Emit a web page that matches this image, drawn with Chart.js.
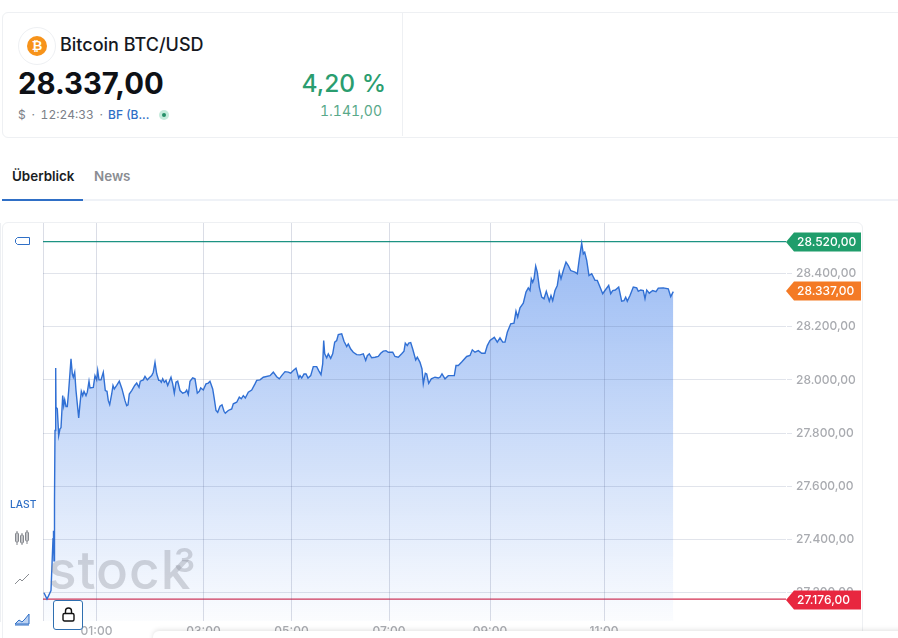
<!DOCTYPE html>
<html lang="de">
<head>
<meta charset="UTF-8">
<title>Bitcoin BTC/USD</title>
<style>
    html, body { margin: 0; padding: 0; background: #fff; overflow: hidden; font-family: Inter, Arial, sans-serif; }
    #page { position: relative; width: 898px; height: 638px; overflow: hidden; }
    #page > * { position: absolute; }
    #quoteCard { left: 2px; top: 12px; width: 920px; height: 124px; border: 1px solid #eef0f3; border-radius: 6px; }
    #divider { left: 402px; top: 13px; width: 1px; height: 123px; background: #eef0f3; }
    #coin { left: 18px; top: 27px; width: 36px; height: 36px; border: 1px solid #eef0f3; border-radius: 50%; }
    #coin div { position: absolute; left: 8px; top: 8px; width: 20px; height: 20px; border-radius: 50%; background: #f7931a; color: #fff; font: bold 13px/20px "DejaVu Sans", sans-serif; text-align: center; }
    #title { left: 60px; top: 34px; font-size: 18px; line-height: 22px; font-weight: 500; color: #16191f; }
    #price { left: 18px; top: 66px; font-size: 29.3px; line-height: 36px; font-weight: 700; color: #0e1116; }
    #meta { left: 18px; top: 107px; font-size: 12px; line-height: 16px; color: #7b8088; white-space: pre; font-feature-settings: "tnum"; word-spacing: 2.5px; }
    #exchange { left: 108px; top: 107px; font-size: 12px; line-height: 16px; font-weight: 500; color: #2f6fc6; }
    #live { left: 159px; top: 110px; width: 10px; height: 10px; border-radius: 50%; background: #c5ebdc; }
    #live div { position: absolute; left: 3px; top: 3px; width: 4px; height: 4px; border-radius: 50%; background: #258f68; }
    #pct { right: 512px; top: 67px; font-size: 24.5px; line-height: 32px; font-weight: 500; color: #2a9d6f; }
    #abs { right: 516px; top: 102px; font-size: 14px; line-height: 18px; color: #5aa98a; font-feature-settings: "tnum"; }
    #tab1 { left: 12px; top: 167px; font-size: 13.4px; line-height: 18px; font-weight: 600; color: #1a1d23; }
    #tab2 { left: 94px; top: 167px; font-size: 13.4px; line-height: 18px; font-weight: 600; color: #8a8d92; }
    #tabLine { left: 2px; top: 199px; width: 896px; height: 2px; background: #eff2f7; }
    #tabActive { left: 2px; top: 199px; width: 81px; height: 2px; background: #2f6fc6; }
    #chartCard { left: 2px; top: 222px; width: 859px; height: 430px; border: 1px solid #eef0f3; border-radius: 6px; }
    #chart { left: 0; top: 0; }
    #mark { left: 48px; top: 537px; font-size: 53px; line-height: 66px; font-weight: 500; color: rgba(130,134,145,.33); letter-spacing: 1px; }
    #markExp { left: 174px; top: 542px; font-size: 33px; line-height: 36px; font-weight: 600; color: rgba(130,134,145,.33); }
    #last { left: 10px; top: 498px; font-size: 10.3px; line-height: 12px; font-weight: 500; color: #2f6fc6; }
    #lock { left: 53px; top: 600px; width: 28px; height: 28px; background: #fff; border: 1px solid #2f6fb0; border-radius: 3px; }
    #popup { left: 153px; top: 631px; width: 800px; height: 30px; background: #fff; border-radius: 6px 0 0 0; box-shadow: 0 -1px 5px rgba(0,0,0,.12); }
    svg { position: absolute; }
</style>
</head>
<body>
<div id="page">
    <div id="quoteCard"></div>
    <div id="divider"></div>
    <div id="coin"><div>₿</div></div>
    <div id="title">Bitcoin BTC/USD</div>
    <div id="price">28.337,00</div>
    <div id="meta">$ · 12:24:33 ·</div>
    <div id="exchange">BF (B...</div>
    <div id="live"><div></div></div>
    <div id="pct">4,20 %</div>
    <div id="abs">1.141,00</div>
    <div id="tab1">Überblick</div>
    <div id="tab2">News</div>
    <div id="tabLine"></div>
    <div id="tabActive"></div>
    <div id="chartCard"></div>
    <canvas id="chart" width="898" height="638"></canvas>
    <div id="mark">stock</div>
    <div id="markExp">3</div>
    <svg style="left:14px;top:235px" width="18" height="12"><path d="M3.5 2.5h12v7h-12l-2-2v-3z" fill="none" stroke="#2f6fc6"/></svg>
    <div id="last">LAST</div>
    <svg style="left:14px;top:530px" width="16" height="16" fill="none" stroke="#85888e"><rect x="1.5" y="3" width="3" height="9" rx="1"/><rect x="6.5" y="5" width="3" height="8" rx="1"/><rect x="11.5" y="2" width="3" height="9" rx="1"/><path d="M3 1v14M8 3v12M13 0v14"/></svg>
    <svg style="left:14px;top:572px" width="16" height="14" fill="none" stroke="#8a8d92"><path d="M1 12l5-5 2 2 7-7"/></svg>
    <svg style="left:14px;top:612px" width="16" height="14"><path d="M1 12l4-4 3 2 3-3 4-5v10z" fill="#bcd2f2" stroke="#2f6fc6"/><path d="M1 13h14" stroke="#2f6fc6"/></svg>
    <div id="lock"><svg style="left:8px;top:6px" width="13" height="15" fill="none" stroke="#111" stroke-width="1.4"><rect x="1" y="6.5" width="11" height="7.5" rx="1.5"/><path d="M3.5 6.5V4a3 3 0 0 1 6 0v2.5"/></svg></div>
    <div id="popup"></div>
</div>
<script src="https://cdn.jsdelivr.net/npm/chart.js@4"></script>
<script>
// position along the (uneven) session axis, one entry per trade sample
const steps = [1,4,8,10,10.5,11,11.5,12,12.7,13,14.3,15.7,17,18,19.7,20.7,21.7,23,24.3,25.7,28,29.3,30.3,31.7,33,34.3,35.7,37,38.3,39.7,41,43,44.3,46,47,50.3,52,53.7,54.7,56,58,60.3,62.3,64,65.3,66.7,68.7,70,71.3,73.7,76.3,79,82,83.7,85,86.3,88.7,91.7,93.7,96,97.3,100.3,102,104.3,106.3,108.7,110.3,112,113.7,115.7,117,118.3,119.7,121.3,123,124.7,128,129.7,131.3,133,134.7,137,139.7,142.3,143.7,145.3,147,149.7,152,154.3,156.3,157.7,160.3,163,165.3,167,169.7,171.3,173,174.7,177,179,181,182.3,185.3,188.7,190.3,193.7,196.3,198.3,200.3,202.3,205.3,208.7,212,213.7,217,220.3,227,230.3,233.7,236.3,238.7,242,245.3,247.7,250.3,253,255.7,257,258.7,261,263,265,267.7,270.3,273.7,275.7,278,279.7,280.7,281.7,283.7,285.3,287.7,289.7,291.7,293.7,295.3,298.7,301,303.7,305.3,307.7,310.3,313.7,317,320.3,322.7,324.3,326.3,328.7,332,335.3,337.7,340.3,343,345.3,349.7,352,355.3,358.7,361,362.3,364.3,365.7,367.7,369.7,372.7,374.3,377,379,380.3,382.3,383.7,385.7,388.3,392,395.3,397,399,402,405.3,411.3,413,415.3,418.7,423.7,427,429.3,432,435.3,438.7,442,444.3,447,451.3,454.3,457,459.7,462,464.3,467.7,471,473,474.7,477,480.3,483,485.3,487,488.3,489.7,491,492.7,494.3,496.3,498.7,501,503.3,506.3,508,509.7,512,514.3,516.3,518,520.3,523,525.3,527.7,532,534.3,536.3,538.7,540.3,541.7,543.7,546,548.7,552,554.3,557,559.7,562.3,565.7,567.7,569.7,572.3,575.7,578.7,581,582.7,584.3,587,590.3,593.7,595.3,597.7,600.3,602,603.7,606.3,609.7,613,615.3,620.3,625.3,627.7,630.3];
const prices = [27200,27176,27208,27403,27433,27320,27546,27810,28045,27897,27891,27791,27816,27820,27941,27903,27925,27900,27900,27960,28079,28023,28010,28029,27960,27910,27857,27910,27957,27941,27957,27941,27954,27995,27970,27972,28016,28000,28035,28000,28000,28029,27960,27957,27922,27907,27947,27979,27966,27979,27995,27966,27922,27903,27906,27947,27960,27979,27988,27972,27995,28000,28013,28000,28008,28016,28029,28066,28023,27998,27998,27991,28004,27991,27998,27979,28010,27985,27950,27991,27995,27960,27950,27954,27962,27945,27995,28008,28004,27950,27957,27970,27962,27985,27988,27995,27966,27929,27885,27878,27901,27906,27882,27875,27885,27891,27910,27916,27935,27929,27941,27932,27954,27962,27985,27998,28000,28010,28016,28029,28012,28004,28016,28031,28029,28025,28035,28044,28007,28016,28007,28022,28022,28007,28016,28050,28050,28035,28020,28060,28148,28098,28083,28098,28081,28098,28142,28148,28170,28173,28145,28125,28135,28116,28104,28095,28094,28098,28073,28091,28098,28083,28085,28088,28100,28108,28110,28104,28104,28088,28085,28098,28108,28138,28129,28138,28140,28116,28075,28085,28066,28041,27985,28025,28022,27987,28004,28010,28007,28010,28023,28004,28016,28016,28054,28054,28067,28088,28092,28113,28104,28110,28100,28100,28129,28148,28160,28142,28158,28142,28142,28179,28211,28213,28258,28236,28271,28288,28330,28346,28336,28380,28367,28380,28428,28405,28349,28311,28305,28333,28296,28317,28298,28336,28355,28405,28380,28411,28443,28430,28411,28405,28399,28455,28514,28474,28480,28449,28392,28399,28374,28374,28349,28324,28338,28355,28324,28336,28338,28349,28296,28298,28311,28296,28317,28349,28346,28333,28338,28336,28305,28338,28326,28336,28332,28345,28346,28342,28313,28332];

const timeTicks = [0,53.5,160.5,248.5,346,447,561];
const timeLabels = ["","01:00","03:00","05:00","07:00","09:00","11:00"];
const priceTicks = [27200,27400,27600,27800,28000,28200,28400];
const highPrice = 28520;
const lastPrice = 28337;
const lowPrice = 27176;
const axisEnd = 743;
const priceMin = 27093.6;
const priceMax = 28589.8;

const fmt = new Intl.NumberFormat("de-DE", { minimumFractionDigits: 2, maximumFractionDigits: 2 });
Chart.defaults.font.family = "Inter, Arial, sans-serif";
Chart.defaults.animation = false;

// price flags on the right axis
const flags = {
    id: "flags",
    afterDraw(chart) {
        const ctx = chart.ctx, y = chart.scales.y, left = chart.chartArea.right;
        [[highPrice, "#1f9d6b"], [lastPrice, "#f47a25"], [lowPrice, "#e8273f"]].forEach(function (f) {
            const py = Math.round(y.getPixelForValue(f[0]) + 0.5);
            ctx.save();
            ctx.fillStyle = f[1];
            ctx.beginPath();
            ctx.moveTo(left, py);
            ctx.lineTo(left + 8, py - 9.5);
            ctx.lineTo(left + 75, py - 9.5);
            ctx.lineTo(left + 75, py + 9.5);
            ctx.lineTo(left + 8, py + 9.5);
            ctx.closePath();
            ctx.fill();
            ctx.fillStyle = "#fff";
            ctx.font = "500 12px Inter, Arial, sans-serif";
            ctx.textBaseline = "middle";
            ctx.fillText(fmt.format(f[0]), left + 11, py + 0.5);
            ctx.restore();
        });
    }
};

new Chart(document.getElementById("chart"), {
    type: "line",
    data: {
        datasets: [{
            data: steps.map((s, i) => ({ x: s, y: prices[i] })),
            borderColor: "#3170d4",
            borderWidth: 1.4,
            pointRadius: 0,
            tension: 0,
            fill: "start",
            backgroundColor(c) {
                const area = c.chart.chartArea;
                if (!area) return "transparent";
                const g = c.chart.ctx.createLinearGradient(0, area.top + 15, 0, area.bottom);
                g.addColorStop(0, "rgba(126,168,240,.8)");
                g.addColorStop(1, "rgba(126,168,240,.03)");
                return g;
            }
        }, {
            data: [{ x: 0, y: highPrice }, { x: axisEnd, y: highPrice }],
            borderColor: "#1c9383",
            borderWidth: 1.2,
            pointRadius: 0
        }, {
            data: [{ x: 0, y: lowPrice }, { x: axisEnd, y: lowPrice }],
            borderColor: "#d32f50",
            borderWidth: 1.2,
            pointRadius: 0
        }]
    },
    options: {
        responsive: false,
        layout: { padding: { left: 43, top: 223, right: 36, bottom: 0 } },
        plugins: { legend: { display: false }, tooltip: { enabled: false } },
        scales: {
            x: {
                type: "linear",
                min: 0,
                max: axisEnd,
                afterBuildTicks(axis) { axis.ticks = timeTicks.map(v => ({ value: v })); },
                afterFit(axis) { axis.height = 17; },
                ticks: {
                    autoSkip: false,
                    maxRotation: 0,
                    padding: 3,
                    color: "#a9abb0",
                    font: { size: 12, weight: 500 },
                    callback: (v, i) => timeLabels[i]
                },
                border: { display: false },
                grid: { z: 1, color: "rgba(70,85,130,.2)", tickLength: 0 }
            },
            y: {
                position: "right",
                min: priceMin,
                max: priceMax,
                afterBuildTicks(axis) { axis.ticks = priceTicks.map(v => ({ value: v })); },
                afterFit(axis) { axis.width = 76; },
                ticks: {
                    padding: 4,
                    color: "#a9abb0",
                    font: { size: 12, weight: 500 },
                    callback: v => fmt.format(v)
                },
                border: { display: true, color: "#dcdfe5" },
                grid: { z: 1, color: "rgba(70,85,130,.16)", tickLength: 6 }
            }
        }
    },
    plugins: [flags]
});
</script>
</body>
</html>
